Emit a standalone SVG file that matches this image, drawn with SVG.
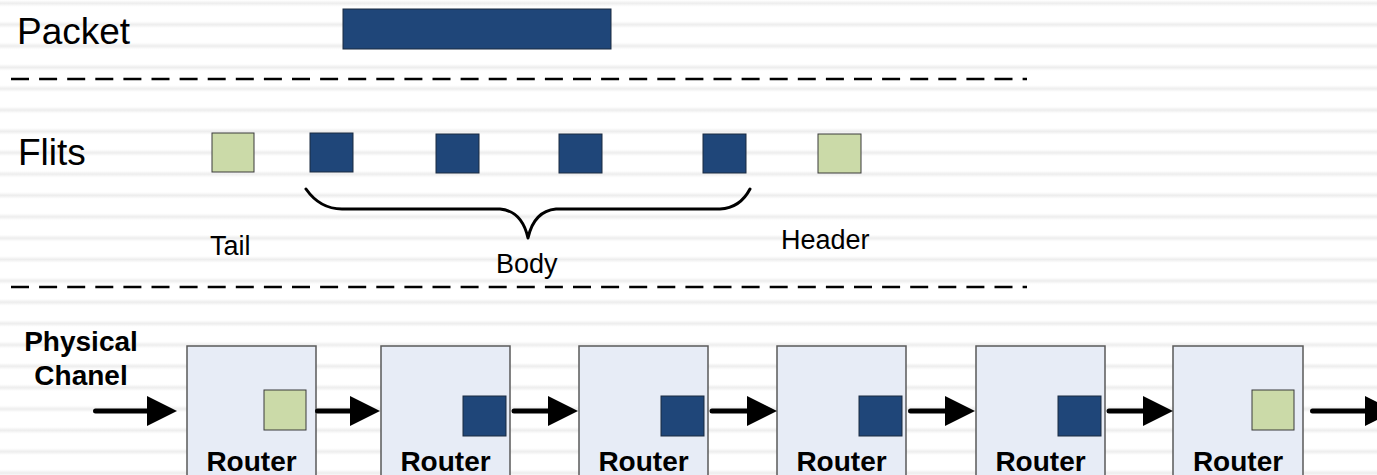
<svg xmlns="http://www.w3.org/2000/svg" width="1377" height="475" viewBox="0 0 1377 475">
<defs>
<linearGradient id="stripe" x1="0" y1="0" x2="0" y2="1">
<stop offset="0" stop-color="#ffffff"/>
<stop offset="0.5" stop-color="#ededed"/>
<stop offset="1" stop-color="#ffffff"/>
</linearGradient>
<pattern id="bg" patternUnits="userSpaceOnUse" width="40" height="21.35" x="0" y="0">
<rect width="40" height="21.35" fill="#ffffff"/>
<rect y="0" width="40" height="6.6" fill="url(#stripe)"/>
</pattern>
<marker id="head" markerUnits="userSpaceOnUse" markerWidth="31" markerHeight="31" refX="0" refY="15" orient="auto" overflow="visible">
<path d="M0,0 L30,15 L0,30 Z" fill="#000"/>
</marker>
</defs>
<style>
.lbl{font-family:"Liberation Sans",Arial,sans-serif;fill:#000}
.big{font-size:37px}
.mid{font-size:27px}
.bold{font-size:28px;font-weight:bold}
.blue{fill:#1f4679;stroke:#1a2a40;stroke-width:1}
.green{fill:#cbdaa8;stroke:#3a3a3a;stroke-width:1}
.router{fill:#e7ecf6;stroke:#5a5a5a;stroke-width:1.5}
.dash{stroke:#000;stroke-width:2.4;stroke-dasharray:18 10.1;fill:none}
.arrow{stroke:#000;stroke-width:5;stroke-linecap:round;fill:none;marker-end:url(#head)}
.brace{stroke:#000;stroke-width:3;fill:none;stroke-linecap:round;stroke-linejoin:round}
</style>
<rect width="1377" height="475" fill="url(#bg)"/>

<g id="packet-label"><text class="lbl big" x="17" y="44">Packet</text></g>
<g id="packet"><rect class="blue" x="343" y="9" width="268" height="40"/></g>
<g id="sep1"><line class="dash" x1="11" y1="79" x2="1027" y2="79"/></g>

<g id="flits-label"><text class="lbl big" x="18" y="165">Flits</text></g>
<g id="flit-tail"><rect class="green" x="212" y="133" width="42" height="39"/></g>
<g id="flit-b1"><rect class="blue" x="310" y="133" width="43" height="39"/></g>
<g id="flit-b2"><rect class="blue" x="436" y="134" width="43" height="39"/></g>
<g id="flit-b3"><rect class="blue" x="559" y="134" width="43" height="39"/></g>
<g id="flit-b4"><rect class="blue" x="703" y="134" width="43" height="39"/></g>
<g id="flit-header"><rect class="green" x="818" y="134" width="43" height="39"/></g>
<g id="brace"><path class="brace" d="M306,189 Q320,209 342,209 L500,209 Q522,211 528,238 Q534,211 556,209 L720,209 Q740,208 750,189"/></g>
<g id="tail-label"><text class="lbl mid" x="210" y="255">Tail</text></g>
<g id="body-label"><text class="lbl mid" x="496" y="273">Body</text></g>
<g id="header-label"><text class="lbl mid" x="781" y="249">Header</text></g>
<g id="sep2"><line class="dash" x1="11" y1="287" x2="1027" y2="287"/></g>

<g id="phys-label"><text class="lbl bold" text-anchor="middle" x="81" y="351">Physical</text><text class="lbl bold" text-anchor="middle" x="81" y="385">Chanel</text></g>

<g id="router1"><rect class="router" x="187" y="346" width="129" height="140"/><rect class="green" x="264" y="390" width="42" height="40"/><text class="lbl bold" text-anchor="middle" x="251.5" y="471">Router</text></g>
<g id="router2"><rect class="router" x="381" y="346" width="129" height="140"/><rect class="blue" x="463" y="396" width="43" height="40"/><text class="lbl bold" text-anchor="middle" x="445.5" y="471">Router</text></g>
<g id="router3"><rect class="router" x="579" y="346" width="129" height="140"/><rect class="blue" x="661" y="396" width="43" height="40"/><text class="lbl bold" text-anchor="middle" x="643.5" y="471">Router</text></g>
<g id="router4"><rect class="router" x="777" y="346" width="129" height="140"/><rect class="blue" x="859" y="396" width="43" height="40"/><text class="lbl bold" text-anchor="middle" x="841.5" y="471">Router</text></g>
<g id="router5"><rect class="router" x="976" y="346" width="129" height="140"/><rect class="blue" x="1058" y="396" width="43" height="40"/><text class="lbl bold" text-anchor="middle" x="1040.5" y="471">Router</text></g>
<g id="router6"><rect class="router" x="1173" y="346" width="130" height="140"/><rect class="green" x="1252" y="390" width="42" height="40"/><text class="lbl bold" text-anchor="middle" x="1238" y="471">Router</text></g>

<g id="connectors">
<line class="arrow" x1="95.5" y1="411" x2="147" y2="411"/>
<line class="arrow" x1="317.5" y1="411" x2="350" y2="411"/>
<line class="arrow" x1="514" y1="411" x2="548" y2="411"/>
<line class="arrow" x1="712" y1="411" x2="747" y2="411"/>
<line class="arrow" x1="910.5" y1="411" x2="945" y2="411"/>
<line class="arrow" x1="1109" y1="411" x2="1143" y2="411"/>
<line class="arrow" x1="1312.5" y1="411" x2="1365" y2="411"/>
</g>
</svg>
